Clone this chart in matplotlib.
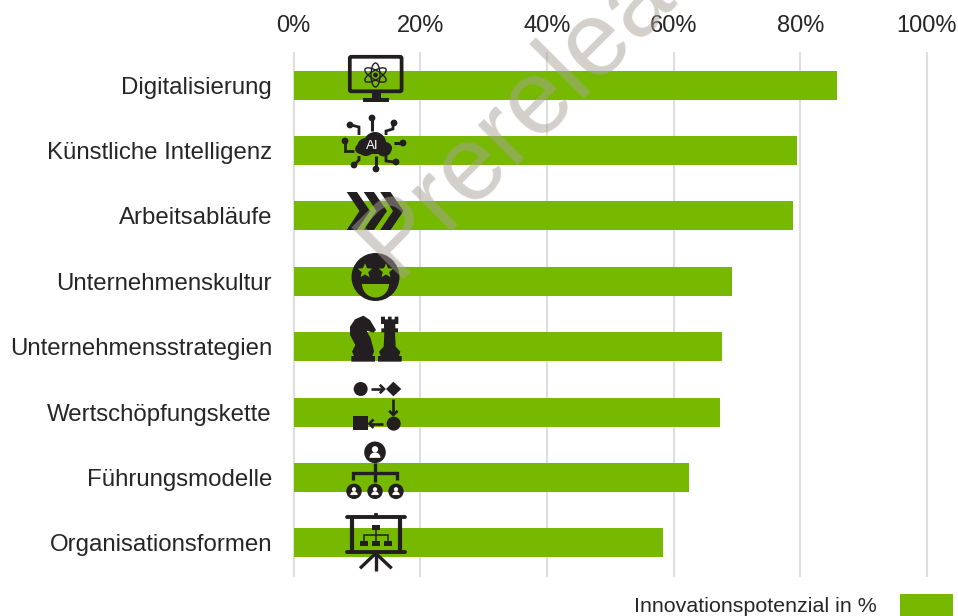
import numpy as np
import matplotlib
matplotlib.use("Agg")
import matplotlib.pyplot as plt
from matplotlib.patches import Circle, Ellipse, Polygon, Rectangle, Wedge, FancyBboxPatch

plt.rcParams['font.family'] = ['Liberation Sans', 'DejaVu Sans']

categories = ["Digitalisierung", "Künstliche Intelligenz", "Arbeitsabläufe", "Unternehmenskultur",
              "Unternehmensstrategien", "Wertschöpfungskette", "Führungsmodelle", "Organisationsformen"]
values = [85.8, 79.5, 78.9, 69.2, 67.6, 67.4, 62.4, 58.3]
x_ticks = [0, 20, 40, 60, 80, 100]
x_labels = ["0%", "20%", "40%", "60%", "80%", "100%"]
legend_label = "Innovationspotenzial in %"
watermark = "Prerelease"

GREEN = "#76B900"
INK = "#231F20"
TXT = "#262626"
W, H = 958, 616

fig = plt.figure(figsize=(W / 100, H / 100), dpi=100)
ax = fig.add_axes([293.5 / W, 1 - 575.5 / H, 633.5 / W, 523 / H])
y = np.arange(len(categories))
ax.barh(y, values, height=0.445, color=GREEN, zorder=3)
ax.set_xlim(0, 100)
ax.set_ylim(len(categories) - 0.5, -0.5)
ax.set_yticks(y, categories)
ax.set_xticks(x_ticks, x_labels)
ax.xaxis.tick_top()
ax.tick_params(axis='both', length=0, labelcolor=TXT)
ax.tick_params(axis='y', pad=15.5, labelsize=17.25)
ax.tick_params(axis='x', pad=11, labelsize=17)
ax.grid(axis='x', color="#DEDEDE", lw=1.5, zorder=1, clip_on=False)
ax.set_axisbelow(True)
for s in ax.spines.values():
    s.set_visible(False)

# overlay in figure pixels
ov = fig.add_axes([0, 0, 1, 1], zorder=5)
ov.set_xlim(0, W)
ov.set_ylim(H, 0)
ov.axis('off')
ov.patch.set_alpha(0)


def line(pts, lw=2.0, c=INK, cap='butt'):
    p = np.array(pts, float)
    ov.plot(p[:, 0], p[:, 1], color=c, lw=lw, solid_capstyle=cap, solid_joinstyle='miter', zorder=6)


def dot(cx, cy, r, c=INK):
    ov.add_patch(Circle((cx, cy), r, fc=c, ec='none', zorder=6))


def rect(x0, y0, x1, y1, c=INK):
    ov.add_patch(Rectangle((x0, y0), x1 - x0, y1 - y0, fc=c, ec='none', zorder=6))


def arrow(x0, y0, x1, y1, s=4.2):
    d = np.array([x1 - x0, y1 - y0], float)
    d /= np.linalg.norm(d)
    n = np.array([-d[1], d[0]])
    tip = np.array([x1, y1], float)
    line([(x0, y0), tip - d], lw=1.9)
    line([tip - d * s + n * s, tip, tip - d * s - n * s], lw=1.9)


def person(cx, cy, r, c="white"):
    dot(cx, cy - r * 0.32, r * 0.33, c)
    ov.add_patch(Wedge((cx, cy + r * 0.58), r * 0.58, 180, 360, fc=c, ec='none', zorder=7))


def zm(px, py, ox=330, oy=300):
    return (ox + px / 3, oy + py / 3)


# --- monitor with atom
ov.add_patch(FancyBboxPatch((349.8, 56.8), 51.8, 34.5, boxstyle="round,pad=0,rounding_size=1.5",
                            fc='none', ec=INK, lw=2.7, zorder=6))
rect(372, 92, 381, 98)
rect(363, 97.5, 389, 102)
for a in (30, 90, 150):
    ov.add_patch(Ellipse((375.5, 75), 24, 9, angle=a, fc='none', ec=INK, lw=1.0, zorder=6))
dot(375.5, 75, 2.4)

# --- AI cloud
dot(366, 147, 9)
dot(375, 143, 11)
dot(384, 149, 7.5)
dot(360, 149, 4.8)
dot(387, 148, 5)
rect(360, 146, 388, 153.8)
ov.text(372, 146, "AI", color="white", fontsize=9.5, ha='center', va='center', zorder=7)
line([(372, 131), (372, 119)], 2.2)
dot(372, 118, 3.4)
line([(359, 135), (359, 127), (351, 125)], 2.0)
dot(350, 125, 3.4)
line([(386, 135), (386, 131), (393, 129), (393, 124)], 2.0)
dot(394, 123, 3.4)
line([(394, 143), (402, 143)], 2.2)
dot(403, 143, 3.4)
line([(354, 151), (345, 151), (345, 142)], 2.0)
dot(345, 141, 3.4)
line([(359, 156), (359, 160), (355, 164)], 2.0)
dot(354, 165, 3.4)
line([(376, 156), (376, 168)], 2.2)
dot(376, 169, 3.4)
line([(386, 156), (386, 161), (394, 162)], 2.0)
dot(396, 162, 3.4)

# --- chevrons
for off in (0, 17, 33.5):
    pts = [(346.7, 192), (357, 192), (370, 211), (357, 230), (346.7, 230), (359.5, 211)]
    ov.add_patch(Polygon([(px + off, py) for px, py in pts], closed=True, fc=INK, ec='none', zorder=6))

# --- star-eyed face
dot(375.5, 277, 24)
for cx in (365, 386):
    ov.add_patch(Polygon([(cx + (7.6 if i % 2 == 0 else 3.4) * np.sin(t), 271 - (7.6 if i % 2 == 0 else 3.4) * np.cos(t))
                          for i, t in enumerate(np.arange(10) * np.pi / 5)],
                         closed=True, fc=GREEN, ec='none', zorder=7))
ov.add_patch(Wedge((375.5, 284), 13.5, 0, 180, fc=GREEN, ec='none', zorder=7))

# --- chess pieces
knight = [(100, 47), (120, 60), (138, 90), (130, 98), (110, 92), (122, 115), (130, 145), (132, 155),
          (127, 168), (135, 168), (135, 185), (64, 185), (64, 168), (72, 168), (66, 155), (76, 135),
          (60, 105), (60, 80), (75, 58)]
ov.add_patch(Polygon([zm(*p) for p in knight], closed=True, fc=INK, ec='none', zorder=6))
rook = [(153, 50), (165, 50), (165, 58), (174, 58), (174, 50), (185, 50), (185, 58), (194, 58), (194, 50),
        (205, 50), (205, 72), (196, 72), (196, 85), (204, 85), (204, 97), (195, 97), (197, 140), (211, 155),
        (207, 168), (215, 168), (215, 185), (144, 185), (144, 168), (152, 168), (147, 155), (161, 140),
        (163, 97), (154, 97), (154, 85), (162, 85), (162, 72), (153, 72)]
ov.add_patch(Polygon([zm(*p) for p in rook], closed=True, fc=INK, ec='none', zorder=6))

# --- flow
dot(*zm(92, 267), 7)
arrow(*zm(122, 267), *zm(162, 267))
ov.add_patch(Polygon([zm(190, 245), zm(214, 267), zm(190, 289), zm(168, 267)], closed=True, fc=INK, ec='none', zorder=6))
arrow(*zm(190, 297), *zm(190, 345))
dot(*zm(191, 371), 7)
arrow(*zm(160, 371), *zm(118, 371))
rect(*zm(70, 349), *zm(113, 389))

# --- org chart
dot(*zm(135, 457), 10.8)
person(*zm(135, 457), 9.5)
line([zm(135, 490), zm(135, 545)], 2.4)
line([zm(70, 540), zm(70, 518), zm(200, 518), zm(200, 540)], 2.4)
for px in (72, 135, 198):
    cx, cy = zm(px, 574)
    dot(cx, cy, 7.7)
    person(cx, cy, 6.4)

# --- presentation board
line([zm(50, 652), zm(226, 652)], 2.8, cap='round')
line([zm(50, 757), zm(226, 757)], 2.8, cap='round')
line([zm(66, 652), zm(66, 757)], 3.0)
line([zm(210, 652), zm(210, 757)], 3.0)
line([zm(137, 640), zm(137, 652)], 2.6)
for end in ((90, 805), (137, 812), (185, 805)):
    line([zm(137, 760), zm(*end)], 2.4)
rect(*zm(126, 675), *zm(150, 690))
for px in (90, 126, 162):
    rect(*zm(px, 722), *zm(px + 24, 738))
line([zm(138, 690), zm(138, 722)], 1.1)
line([zm(102, 722), zm(102, 705), zm(174, 705), zm(174, 722)], 1.1)

# --- legend
ov.text(877, 606, legend_label, ha='right', va='center', fontsize=15.4, color=TXT, zorder=6)
rect(900, 594, 953, 616, c=GREEN)

# --- watermark
ov.text(395, 279, watermark, rotation=45, rotation_mode='anchor', ha='left', va='baseline',
        fontsize=76, color="#A8A29A", alpha=0.5, zorder=10, clip_on=False)

fig.savefig("out.png", dpi=100)
